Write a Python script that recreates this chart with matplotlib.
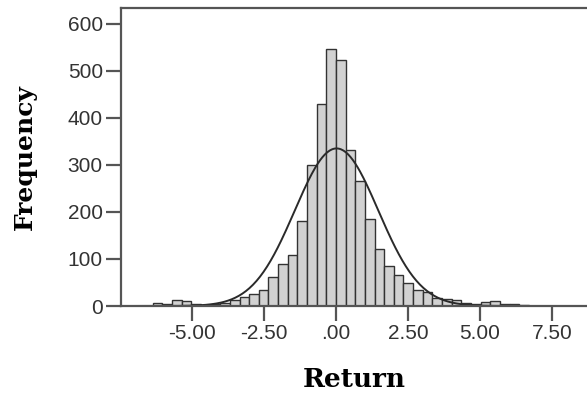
import matplotlib
matplotlib.use("Agg")
import matplotlib.pyplot as plt
import numpy as np

# --- data ---
bin_width = 0.335
first_edge = -19 * bin_width
counts = [6, 5, 12, 10, 4, 3, 4, 6, 13, 20, 26, 34, 62, 89, 108, 181, 300, 430, 547,
          523, 332, 267, 185, 121, 85, 66, 48, 35, 30, 17, 14, 12, 7, 5, 9, 10, 5, 4, 2]
x_ticks = [-5.0, -2.5, 0.0, 2.5, 5.0, 7.5]
x_tick_labels = ["-5.00", "-2.50", ".00", "2.50", "5.00", "7.50"]
y_ticks = [0, 100, 200, 300, 400, 500, 600]

# normal curve parameters
curve_mean = 0.02
curve_sd = 1.45

edges = first_edge + bin_width * np.arange(len(counts))
n_total = sum(counts)

fig = plt.figure(figsize=(5.87, 4.00), dpi=100)
ax = fig.add_axes([0.206, 0.235, 0.794, 0.745])

ax.bar(edges, counts, width=bin_width, align="edge", color="#d2d2d2",
       edgecolor="#333333", linewidth=1.0)

xs = np.linspace(-7.5, 8.8, 400)
ys = n_total * bin_width / (curve_sd * np.sqrt(2 * np.pi)) * np.exp(-(xs - curve_mean) ** 2 / (2 * curve_sd ** 2))
ax.plot(xs, ys, color="#2a2a2a", linewidth=1.4)

ax.set_xlim(-7.47, 8.72)
ax.set_ylim(0, 634)
ax.set_xticks(x_ticks)
ax.set_xticklabels(x_tick_labels)
ax.set_yticks(y_ticks)

for s in ["left", "top", "bottom"]:
    ax.spines[s].set_color("#555555")
    ax.spines[s].set_linewidth(1.6)
ax.spines["right"].set_visible(False)

ax.tick_params(direction="out", length=11, width=1.6, color="#555555",
               labelsize=15, labelcolor="#333333", pad=2)
for lab in ax.get_xticklabels() + ax.get_yticklabels():
    lab.set_family("Liberation Sans")

ax.set_xlabel("Return", family="DejaVu Serif", fontweight="bold", fontsize=19)
ax.set_ylabel("Frequency", family="DejaVu Serif", fontweight="bold", fontsize=18)
ax.xaxis.set_label_coords(0.5, -0.205)
ax.yaxis.set_label_coords(-0.18, 0.5)

fig.savefig("out.png", dpi=100)
